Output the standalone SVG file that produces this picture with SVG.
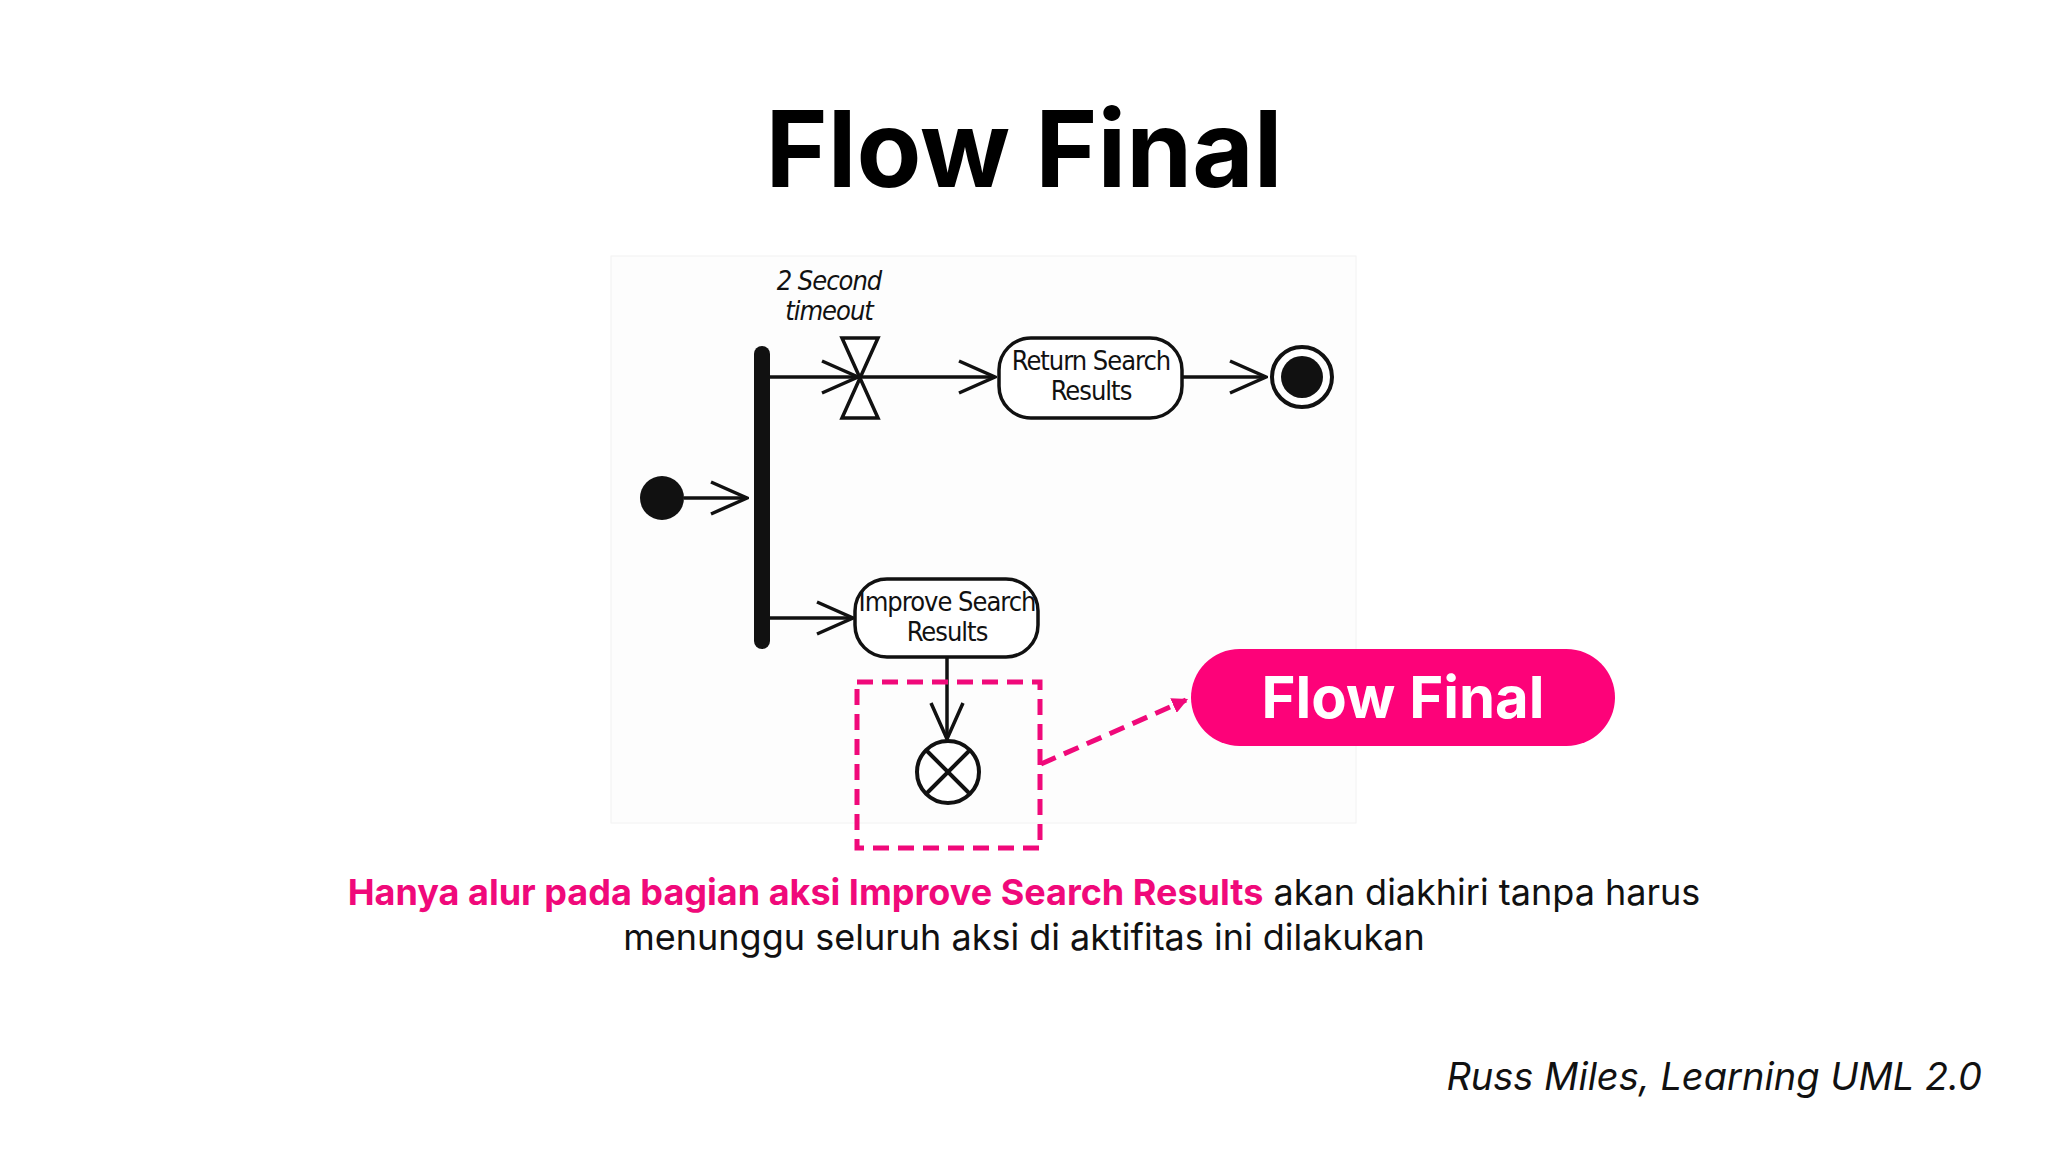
<svg xmlns="http://www.w3.org/2000/svg" width="2048" height="1152" viewBox="0 0 2048 1152">
<defs>
<style>
.ln{stroke:#111;stroke-width:3.5;fill:none}
.box{stroke:#111;stroke-width:3.5;fill:#fff}
.lbl{font-family:"DejaVu Sans Condensed","DejaVu Sans",sans-serif;font-size:27px;fill:#111;text-anchor:middle;letter-spacing:-1px}
.pk{stroke:#f0097a;stroke-width:5;stroke-dasharray:16 9;fill:none}
</style>
<marker id="open" viewBox="0 0 20 20" refX="19" refY="10" markerWidth="20" markerHeight="20" markerUnits="userSpaceOnUse" orient="auto"><path d="M0,0 L19,10 L0,20" fill="none" stroke="#111" stroke-width="3.5"/></marker>
<marker id="big" viewBox="0 0 40 36" refX="38" refY="18" markerWidth="40" markerHeight="36" markerUnits="userSpaceOnUse" orient="auto"><path d="M2,2 L38,18 L2,34" fill="none" stroke="#111" stroke-width="3.5"/></marker>
<marker id="pa" viewBox="0 0 14 14" refX="12" refY="7" markerWidth="16" markerHeight="16" markerUnits="userSpaceOnUse" orient="auto"><path d="M0,0 L14,7 L0,14 Z" fill="#f0097a"/></marker>
</defs>
<rect width="2048" height="1152" fill="#fff"/>
<text x="1024" y="187" font-family="Inter,'Open Sans',sans-serif" font-weight="700" font-size="106" text-anchor="middle" fill="#000">Flow Final</text>
<rect x="611" y="256" width="745" height="567" fill="#fdfdfd" stroke="#f2f2f2"/>
<g id="connectors">
<line class="ln" x1="684" y1="498" x2="747" y2="498" marker-end="url(#big)"/>
<line class="ln" x1="762" y1="377" x2="858" y2="377" marker-end="url(#big)"/>
<line class="ln" x1="860" y1="377" x2="995" y2="377" marker-end="url(#big)"/>
<line class="ln" x1="1182" y1="377" x2="1266" y2="377" marker-end="url(#big)"/>
<line class="ln" x1="762" y1="618" x2="853" y2="618" marker-end="url(#big)"/>
<line class="ln" x1="947" y1="657" x2="947" y2="739" marker-end="url(#big)"/>
<line class="pk" x1="1041" y1="764" x2="1186" y2="700" marker-end="url(#pa)"/>
</g>
<g id="initial"><circle cx="662" cy="498" r="22" fill="#111"/></g>
<g id="fork"><rect x="754" y="346" width="16" height="303" rx="8" fill="#111"/></g>
<g id="timeout">
<path class="box" d="M842,338 L878,338 L842,418 L878,418 Z"/>
<text class="lbl" font-style="italic" x="829" y="290">2 Second</text>
<text class="lbl" font-style="italic" x="829" y="320">timeout</text>
</g>
<g id="return">
<rect class="box" x="999" y="338" width="183" height="80" rx="32"/>
<text class="lbl" x="1091" y="370">Return Search</text>
<text class="lbl" x="1091" y="400">Results</text>
</g>
<g id="final"><circle cx="1302" cy="377" r="30" fill="#fff" stroke="#111" stroke-width="4"/><circle cx="1302" cy="377" r="21" fill="#111"/></g>
<g id="improve">
<rect class="box" x="855" y="579" width="183" height="78" rx="32"/>
<text class="lbl" x="947" y="611">Improve Search</text>
<text class="lbl" x="947" y="641">Results</text>
</g>
<g id="flowfinal"><circle cx="948" cy="772" r="31" fill="#fff" stroke="#111" stroke-width="4"/><path d="M926,750 L970,794 M970,750 L926,794" stroke="#111" stroke-width="4"/></g>
<g id="highlight"><rect class="pk" x="857" y="682" width="183" height="166"/></g>
<g id="pill">
<rect x="1191" y="649" width="424" height="97" rx="48.5" fill="#fd0279"/>
<text x="1403" y="718" font-family="Inter,'Open Sans',sans-serif" font-weight="700" font-size="58" text-anchor="middle" fill="#fff">Flow Final</text>
</g>
<text x="1024" y="905" font-family="Inter,'Open Sans',sans-serif" font-size="36" text-anchor="middle" fill="#111"><tspan fill="#f0097a" font-weight="700">Hanya alur pada bagian aksi Improve Search Results</tspan> akan diakhiri tanpa harus</text>
<text x="1024" y="950" font-family="Inter,'Open Sans',sans-serif" font-size="36" text-anchor="middle" fill="#111">menunggu seluruh aksi di aktifitas ini dilakukan</text>
<text x="1982" y="1090" font-family="Inter,'Open Sans',sans-serif" font-style="italic" font-size="38" text-anchor="end" fill="#111">Russ Miles, Learning UML 2.0</text>
</svg>
